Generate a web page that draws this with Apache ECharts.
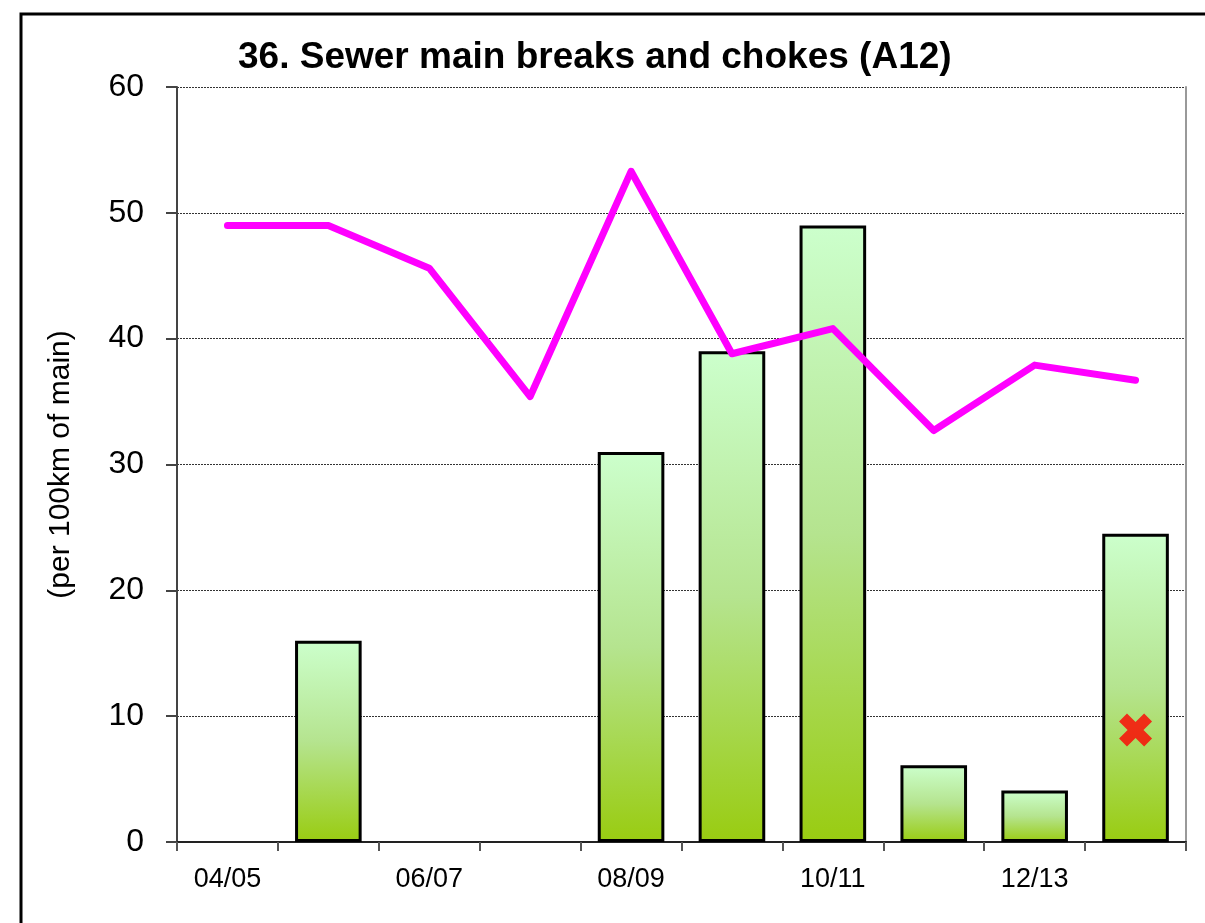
<!DOCTYPE html>
<html>
<head>
<meta charset="utf-8">
<script src="https://cdn.jsdelivr.net/npm/echarts@6/dist/echarts.min.js"></script>
<style>
  html, body { margin: 0; padding: 0; background: #fff; }
  #chart { width: 1205px; height: 923px; }
</style>
</head>
<body>
<div id="chart"></div>
<script>
const categories = ['04/05', '05/06', '06/07', '07/08', '08/09', '09/10', '10/11', '11/12', '12/13', '13/14'];
const barValues = [null, 16, null, null, 31, 39, 49, 6.1, 4.1, 24.5];
const lineValues = [49, 49, 45.6, 35.4, 53.3, 38.8, 40.8, 32.7, 37.9, 36.7];
const markerValues = [null, null, null, null, null, null, null, null, null, 8.9];
const yTicks = { min: 0, max: 60, interval: 10 };

const narrow = '"Liberation Sans Narrow", "Liberation Sans", Arial, sans-serif';
const chart = echarts.init(document.getElementById('chart'), null, { renderer: 'canvas' });

chart.setOption({
  animation: false,
  backgroundColor: '#ffffff',
  title: {
    text: '36. Sewer main breaks and chokes (A12)',
    left: 233,
    top: 34,
    textStyle: { fontFamily: '"Liberation Sans", Arial, sans-serif', fontWeight: 'bold', fontSize: 37, color: '#000' }
  },
  graphic: [{
    type: 'rect',
    z: -10,
    shape: { x: 21, y: 14, width: 1400, height: 1100 },
    style: { fill: 'none', stroke: '#000', lineWidth: 3 }
  }],
  grid: { left: 177, right: 19, top: 87, bottom: 81, containLabel: false },
  xAxis: {
    type: 'category',
    data: categories,
    boundaryGap: true,
    axisLine: { lineStyle: { color: '#222', width: 2 } },
    axisTick: { show: true, interval: 0, length: 9, lineStyle: { color: '#555', width: 2 } },
    axisLabel: { interval: 1, margin: 24, fontFamily: narrow, fontSize: 27, color: '#000' },
    splitLine: { show: false }
  },
  yAxis: [{
    type: 'value',
    min: yTicks.min,
    max: yTicks.max,
    interval: yTicks.interval,
    name: '(per 100km of main)',
    nameLocation: 'middle',
    nameRotate: 90,
    nameGap: 101,
    nameTextStyle: { fontFamily: '"Liberation Sans", Arial, sans-serif', fontSize: 30, color: '#000' },
    axisLine: { show: true, lineStyle: { color: '#444', width: 2 } },
    axisTick: { show: true, length: 11, lineStyle: { color: '#444', width: 2 } },
    axisLabel: { margin: 33, fontFamily: narrow, fontSize: 32, color: '#000' },
    splitLine: { show: true, lineStyle: { color: '#333', width: 1, type: [2, 1] } }
  }, {
    type: 'value',
    position: 'right',
    min: yTicks.min,
    max: yTicks.max,
    interval: yTicks.interval,
    axisLine: { show: true, lineStyle: { color: '#999', width: 2 } },
    axisTick: { show: false },
    axisLabel: { show: false },
    splitLine: { show: false }
  }],
  series: [{
    type: 'bar',
    data: barValues,
    barWidth: '66%',
    itemStyle: {
      borderColor: '#000',
      borderWidth: 3,
      color: new echarts.graphic.LinearGradient(0, 0, 0, 1, [
        { offset: 0, color: '#ccffcc' },
        { offset: 0.5, color: '#b5e48f' },
        { offset: 1, color: '#99cc11' }
      ])
    },
    z: 2
  }, {
    type: 'line',
    data: lineValues,
    showSymbol: false,
    symbol: 'none',
    lineStyle: { color: '#ff00ff', width: 7, cap: 'round', join: 'round' },
    z: 4
  }, {
    type: 'scatter',
    data: markerValues,
    symbol: 'path://M2.4,0 L5,2.6 L7.6,0 L10,2.4 L7.4,5 L10,7.6 L7.6,10 L5,7.4 L2.4,10 L0,7.6 L2.6,5 L0,2.4 Z',
    symbolSize: 33,
    itemStyle: { color: '#ff0000' },
    z: 5
  }]
});
</script>
</body>
</html>
